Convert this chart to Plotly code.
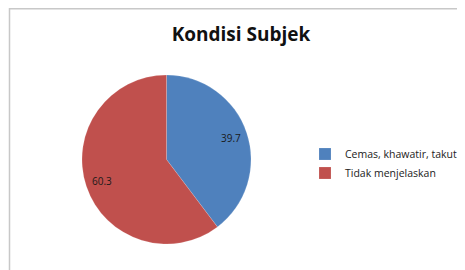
import math
import plotly.graph_objects as go

categories = ["Cemas, khawatir, takut", "Tidak menjelaskan"]
values = [39.7, 60.3]
colors = ["#4F81BD", "#C0504D"]
title_text = "Kondisi Subjek"

# the page body adds an 8px offset; the figure fills the rest of the window
OFF = 8
W, H = 465 - OFF, 270 - OFF


def px(x):
    return (x - OFF) / W


def py(y):
    return 1 - (y - OFF) / H


cx, cy, R = 166.5, 159.5, 84.5

fig = go.Figure()
fig.add_trace(go.Pie(
    labels=categories,
    values=values,
    textinfo="none",
    marker=dict(colors=colors, line=dict(color="rgba(255,255,255,0.3)", width=0.5)),
    sort=False,
    direction="clockwise",
    rotation=0,
    domain=dict(x=[px(cx - R), px(cx + R)], y=[py(cy + R), py(cy - R)]),
    hoverinfo="label+value",
))

# data labels at the slice mid-angles
annotations = []
total = sum(values)
cum = 0.0
for v in values:
    mid = (cum + v / 2) / total * 2 * math.pi
    cum += v
    lx = cx + 0.8 * R * math.sin(mid)
    ly = cy - 0.8 * R * math.cos(mid)
    annotations.append(dict(x=px(lx), y=py(ly), xref="paper", yref="paper",
                            xanchor="center", yanchor="middle",
                            text=f"{v}", showarrow=False,
                            font=dict(family="Open Sans", size=10, color="#1a1a1a")))

fig.update_layout(
    width=W, height=H,
    margin=dict(l=0, r=0, t=0, b=0),
    paper_bgcolor="white",
    plot_bgcolor="white",
    title=dict(text="<b>" + title_text + "</b>", x=px(241), xanchor="center",
               y=py(34), yanchor="middle",
               font=dict(family="Open Sans", size=19, color="#111111")),
    legend=dict(x=px(305), xanchor="left", y=py(163.5), yanchor="middle",
                font=dict(family="Open Sans", size=10.5, color="#222222"),
                itemwidth=30, tracegroupgap=0),
    showlegend=True,
    annotations=annotations,
    shapes=[dict(type="rect", xref="paper", yref="paper",
                 x0=px(9.5), x1=1.05, y0=-0.05, y1=py(8.7),
                 line=dict(color="#C8C8C8", width=1.5), fillcolor="rgba(0,0,0,0)")],
)

fig.write_html("out.html")
